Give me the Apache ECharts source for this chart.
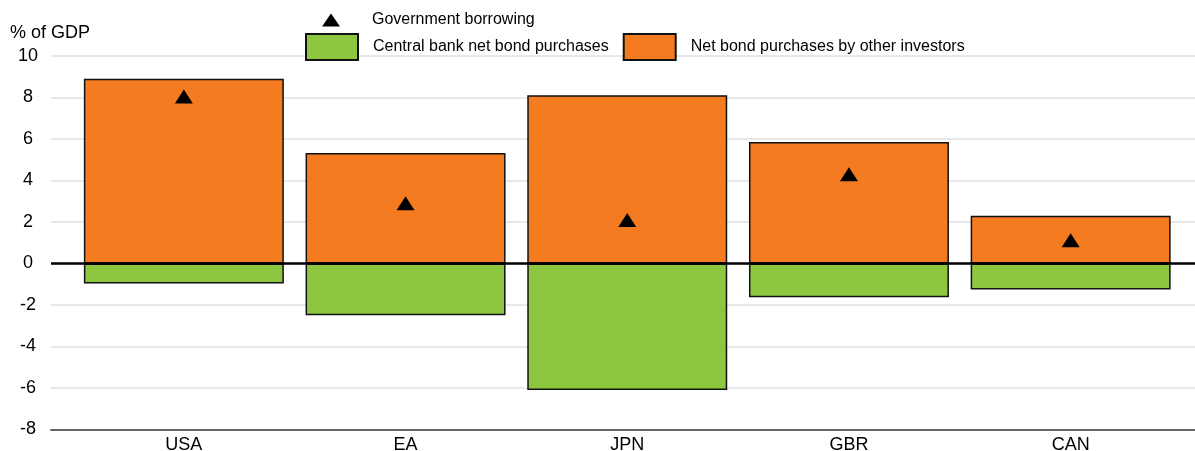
<!DOCTYPE html>
<html>
<head>
<meta charset="utf-8">
<script src="https://cdn.jsdelivr.net/npm/echarts@6/dist/echarts.min.js"></script>
<style>html,body{margin:0;padding:0;background:#fff}#c{width:1195px;height:451px}</style>
</head>
<body>
<div id="c"></div>
<script>
const categories = ['USA', 'EA', 'JPN', 'GBR', 'CAN'];
const centralBank = [-0.96, -2.49, -6.1, -1.63, -1.25];
const otherInvestors = [8.9, 5.32, 8.11, 5.85, 2.3];
const govBorrowing = [8.05, 2.9, 2.1, 4.3, 1.12];
const yTicks = { min: -8, max: 10, interval: 2 };
const zeroLine = [[0, 0], [1, 0]];

const FONT = 'Liberation Sans, Arial, sans-serif';
const chart = echarts.init(document.getElementById('c'), null, { renderer: 'canvas' });
const gridTop = 56, gridBottom = 21.5;
chart.setOption({
  animation: false,
  textStyle: { fontFamily: FONT, color: '#000' },
  title: { text: '% of GDP', left: 5, top: 19, textStyle: { fontFamily: FONT, fontSize: 18, fontWeight: 'normal', color: '#000' } },
  legend: [
    { left: 317, top: 7, itemWidth: 18, itemHeight: 13, data: [{ name: 'Government borrowing', icon: 'triangle' }],
      textStyle: { fontFamily: FONT, fontSize: 16, color: '#000', padding: [0, 0, 0, 27] } },
    { left: 300, top: 28, itemWidth: 52, itemHeight: 26, itemGap: 14, icon: 'rect',
      data: ['Central bank net bond purchases', 'Net bond purchases by other investors'],
      textStyle: { fontFamily: FONT, fontSize: 16, color: '#000', padding: [0, 0, 0, 10] } }
  ],
  grid: [
    { left: 51, right: 0, top: gridTop, bottom: gridBottom, containLabel: false, outerBoundsMode: 'none' },
    { left: 73, right: 13.5, top: gridTop, bottom: gridBottom, containLabel: false, outerBoundsMode: 'none' }
  ],
  xAxis: [
    { gridIndex: 0, type: 'value', min: 0, max: 1, axisLabel: { show: false }, axisTick: { show: false }, splitLine: { show: false },
      axisLine: { show: true, onZero: false, lineStyle: { color: '#666', width: 2 } } },
    { gridIndex: 1, type: 'category', data: categories, axisLine: { show: false }, axisTick: { show: false },
      axisLabel: { fontFamily: FONT, fontSize: 18, color: '#000', margin: 7 } }
  ],
  yAxis: [
    { gridIndex: 0, type: 'value', min: yTicks.min, max: yTicks.max, interval: yTicks.interval,
      axisLine: { show: false }, axisTick: { show: false },
      axisLabel: { fontFamily: FONT, fontSize: 18, color: '#000', align: 'center', margin: 23 },
      splitLine: { lineStyle: { color: '#e0e0e0', width: 1.5 } } },
    { gridIndex: 1, type: 'value', min: yTicks.min, max: yTicks.max, interval: yTicks.interval,
      axisLine: { show: false }, axisTick: { show: false }, axisLabel: { show: false }, splitLine: { show: false } }
  ],
  series: [
    { name: 'Central bank net bond purchases', type: 'bar', xAxisIndex: 1, yAxisIndex: 1, barWidth: '90.2%', barGap: '-100%',
      data: centralBank, itemStyle: { color: '#8dc63f', borderColor: '#111', borderWidth: 1.5 } },
    { name: 'Net bond purchases by other investors', type: 'bar', xAxisIndex: 1, yAxisIndex: 1, barWidth: '90.2%', barGap: '-100%',
      data: otherInvestors, itemStyle: { color: '#f47b20', borderColor: '#111', borderWidth: 1.5 } },
    { name: 'zero', type: 'line', xAxisIndex: 0, yAxisIndex: 0, data: zeroLine, symbol: 'none', z: 5,
      lineStyle: { color: '#000', width: 2.5 }, silent: true },
    { name: 'Government borrowing', type: 'scatter', xAxisIndex: 1, yAxisIndex: 1, data: govBorrowing, symbol: 'triangle',
      symbolSize: [18, 14], itemStyle: { color: '#000', opacity: 1 }, z: 6 }
  ]
});
</script>
</body>
</html>
